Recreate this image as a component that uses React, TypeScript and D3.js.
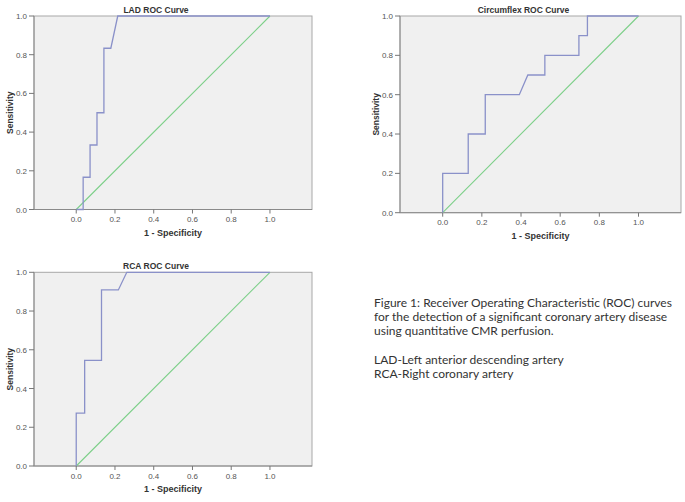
import React from "react";
import * as d3 from "d3";

// ---- data ----
const ladFpr = [0, 1 / 28, 1 / 28, 2 / 28, 2 / 28, 3 / 28, 3 / 28, 4 / 28, 4 / 28, 5 / 28, 6 / 28, 1];
const ladTpr = [0, 0, 1 / 6, 1 / 6, 2 / 6, 2 / 6, 3 / 6, 3 / 6, 5 / 6, 5 / 6, 1, 1];

const cxFpr = [0, 0, 3 / 23, 3 / 23, 5 / 23, 5 / 23, 9 / 23, 10 / 23, 12 / 23, 12 / 23, 16 / 23, 16 / 23, 17 / 23, 17 / 23, 1];
const cxTpr = [0, 0.2, 0.2, 0.4, 0.4, 0.6, 0.6, 0.7, 0.7, 0.8, 0.8, 0.9, 0.9, 1, 1];

const rcaFpr = [0, 0, 1 / 23, 1 / 23, 3 / 23, 3 / 23, 5 / 23, 6 / 23, 1];
const rcaTpr = [0, 3 / 11, 3 / 11, 6 / 11, 6 / 11, 10 / 11, 10 / 11, 1, 1];

const refFpr = [0, 1];
const refTpr = [0, 1];

const tickValues = [0, 0.2, 0.4, 0.6, 0.8, 1.0];
const tickLabels = ["0.0", "0.2", "0.4", "0.6", "0.8", "1.0"];

const titles = ["LAD ROC Curve", "Circumflex ROC Curve", "RCA ROC Curve"];
const xAxisLabel = "1 - Specificity";
const yAxisLabel = "Sensitivity";

const captionLines = [
  "Figure 1: Receiver Operating Characteristic (ROC) curves",
  "for the detection of a significant coronary artery disease",
  "using quantitative CMR perfusion.",
  "",
  "LAD-Left anterior descending artery",
  "RCA-Right coronary artery",
];

const X_DOMAIN: [number, number] = [-0.218, 1.217];
const FONT = "'Liberation Sans', Arial, sans-serif";
const BLUE = "#8a91c9";
const GREEN = "#7ccf88";

type Box = { x: number; y: number; w: number; h: number };

function Panel({ box, title, fpr, tpr }: { box: Box; title: string; fpr: number[]; tpr: number[] }) {
  const x = d3.scaleLinear().domain(X_DOMAIN).range([box.x, box.x + box.w]);
  const y = d3.scaleLinear().domain([0, 1]).range([box.y + box.h, box.y]);
  const pts = fpr.map((f, i) => [f, tpr[i]] as [number, number]);
  const ref = refFpr.map((f, i) => [f, refTpr[i]] as [number, number]);
  const line = d3
    .line<[number, number]>()
    .x((d) => x(d[0]))
    .y((d) => y(d[1]));
  const bottom = box.y + box.h;
  const right = box.x + box.w;
  return (
    <g>
      <rect x={box.x} y={box.y} width={box.w} height={box.h} fill="#f0f0f0" stroke="#a8a8a8" strokeWidth={1} />
      <line x1={box.x} x2={box.x} y1={box.y} y2={bottom} stroke="#8a8a8a" />
      <line x1={box.x} x2={right} y1={bottom} y2={bottom} stroke="#8a8a8a" />
      <path d={line(ref) || ""} fill="none" stroke={GREEN} strokeWidth={1.1} />
      <path d={line(pts) || ""} fill="none" stroke={BLUE} strokeWidth={1.3} />
      {tickValues.map((t, i) => (
        <g key={"y" + i}>
          <line x1={box.x - 5} x2={box.x} y1={y(t)} y2={y(t)} stroke="#777" />
          <text x={box.x - 7} y={y(t) + 3} textAnchor="end" fontSize={8} fill="#555" fontFamily={FONT}>
            {tickLabels[i]}
          </text>
        </g>
      ))}
      {tickValues.map((t, i) => (
        <g key={"x" + i}>
          <line x1={x(t)} x2={x(t)} y1={bottom} y2={bottom + 4} stroke="#777" />
          <text x={x(t)} y={bottom + 12.5} textAnchor="middle" fontSize={8} fill="#555" fontFamily={FONT}>
            {tickLabels[i]}
          </text>
        </g>
      ))}
      <text
        x={(box.x - 34 + right) / 2}
        y={box.y - 3}
        textAnchor="middle"
        fontSize={8.5}
        fontWeight="bold"
        fill="#333"
        fontFamily={FONT}
      >
        {title}
      </text>
      <text
        x={box.x + box.w / 2}
        y={bottom + 26}
        textAnchor="middle"
        fontSize={9}
        fontWeight="bold"
        fill="#333"
        fontFamily={FONT}
      >
        {xAxisLabel}
      </text>
      <text
        transform={`translate(${box.x - 21},${box.y + box.h / 2}) rotate(-90)`}
        textAnchor="middle"
        fontSize={8.5}
        fontWeight="bold"
        fill="#333"
        fontFamily={FONT}
      >
        {yAxisLabel}
      </text>
    </g>
  );
}

export default function App() {
  const boxes: Box[] = [
    { x: 34, y: 16, w: 278, h: 193.5 },
    { x: 400, y: 16, w: 281, h: 196.7 },
    { x: 34, y: 272.3, w: 278, h: 193.7 },
  ];
  const data = [
    [ladFpr, ladTpr],
    [cxFpr, cxTpr],
    [rcaFpr, rcaTpr],
  ];
  return (
    <svg
      width={685}
      height={502}
      style={{ position: "absolute", left: 0, top: 0, background: "#fff" }}
    >
      {boxes.map((b, i) => (
        <Panel key={i} box={b} title={titles[i]} fpr={data[i][0]} tpr={data[i][1]} />
      ))}
      {captionLines.map((l, i) =>
        l ? (
          <text key={i} x={374} y={306.7 + i * 14.2} fontSize={12} fill="#333" fontFamily="Lato, 'Open Sans', sans-serif">
            {l}
          </text>
        ) : null
      )}
    </svg>
  );
}
